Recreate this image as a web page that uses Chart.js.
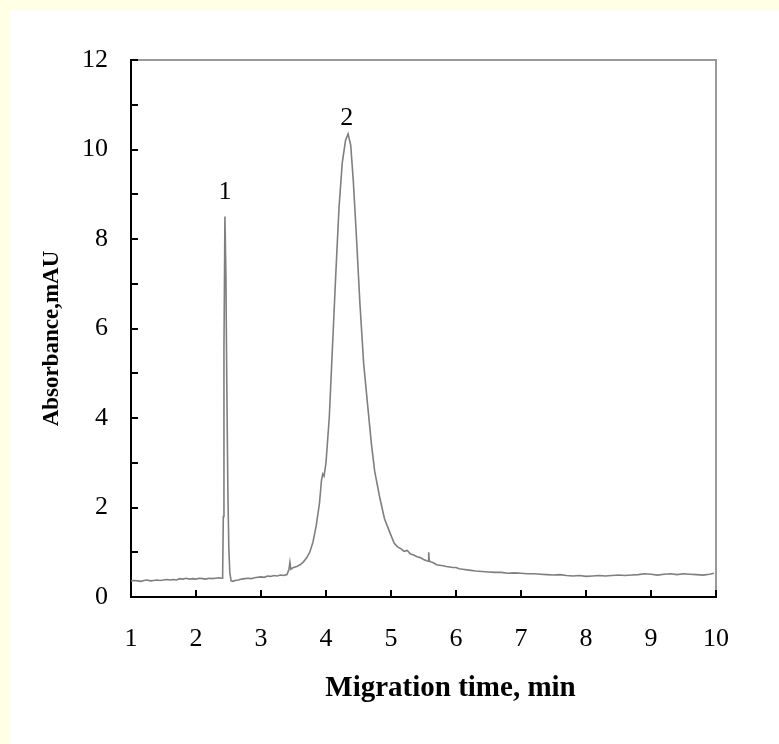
<!DOCTYPE html>
<html>
<head>
<meta charset="utf-8">
<script src="https://cdn.jsdelivr.net/npm/chart.js@4/dist/chart.umd.min.js"></script>
<style>
  html, body { margin: 0; padding: 0; width: 779px; height: 744px; overflow: hidden; background: #FFFFE6; }
  #wrap { position: absolute; left: 9px; top: 10px; width: 770px; height: 734px; background: #ffffff; }
</style>
</head>
<body>
<div id="wrap"><canvas id="c" width="770" height="734"></canvas></div>
<script>
// ---- data ----
const times = [
  1.00,1.05,1.10,1.15,1.20,1.25,1.30,1.35,1.40,1.45,1.50,1.55,1.60,1.65,1.70,1.75,1.80,1.85,1.90,1.95,
  2.00,2.05,2.10,2.15,2.20,2.25,2.30,2.35,2.40,2.41,2.42,2.43,2.445,2.46,2.475,2.49,2.505,2.52,2.54,2.57,
  2.60,2.65,2.70,2.75,2.80,2.85,2.90,2.95,3.00,3.05,3.10,3.15,3.20,3.25,3.30,3.35,3.40,3.43,3.445,3.46,
  3.50,3.55,3.60,3.65,3.70,3.75,3.80,3.85,3.90,3.93,3.95,3.97,4.00,4.05,4.10,4.15,4.20,4.25,4.30,4.34,
  4.38,4.42,4.47,4.52,4.58,4.64,4.70,4.75,4.83,4.90,4.98,5.05,5.10,5.15,5.20,5.25,5.30,5.35,5.40,5.45,
  5.50,5.55,5.57,5.58,5.59,5.62,5.66,5.70,5.75,5.80,5.85,5.90,5.95,6.00,6.05,6.10,6.20,6.30,6.40,6.50,
  6.60,6.70,6.80,6.90,7.00,7.10,7.20,7.30,7.40,7.50,7.60,7.70,7.80,7.90,8.00,8.10,8.20,8.30,8.40,8.50,
  8.60,8.70,8.80,8.90,9.00,9.10,9.20,9.30,9.40,9.50,9.60,9.70,9.80,9.90,9.97
];
const absorbance = [
  0.36,0.37,0.36,0.35,0.37,0.38,0.36,0.37,0.38,0.37,0.38,0.39,0.38,0.39,0.38,0.41,0.40,0.42,0.40,0.41,
  0.40,0.42,0.41,0.40,0.42,0.41,0.42,0.43,0.42,0.50,1.80,5.50,8.50,7.20,4.60,2.40,1.10,0.55,0.36,0.35,
  0.37,0.38,0.40,0.41,0.42,0.41,0.43,0.44,0.45,0.44,0.47,0.46,0.48,0.47,0.49,0.48,0.50,0.62,0.78,0.62,
  0.66,0.68,0.72,0.78,0.87,1.00,1.23,1.60,2.10,2.60,2.75,2.70,3.00,4.00,5.60,7.20,8.70,9.70,10.20,10.35,
  10.10,9.30,8.00,6.60,5.20,4.30,3.40,2.80,2.20,1.75,1.45,1.20,1.12,1.08,1.02,1.04,0.96,0.94,0.90,0.88,
  0.84,0.81,0.80,1.00,0.80,0.78,0.76,0.72,0.71,0.70,0.68,0.67,0.66,0.66,0.63,0.62,0.60,0.58,0.57,0.56,
  0.55,0.55,0.53,0.54,0.53,0.52,0.52,0.51,0.50,0.49,0.50,0.48,0.47,0.48,0.46,0.47,0.48,0.47,0.48,0.49,
  0.48,0.49,0.50,0.52,0.51,0.49,0.51,0.52,0.50,0.52,0.51,0.50,0.49,0.51,0.53
];
const peakLabels = ['1', '2'];
const peakLabelTimes = [2.445, 4.32];
const peakLabelValues = [9.05, 10.71];
const xTitle = 'Migration time, min';
const yTitle = 'Absorbance,mAU';
const xRange = [1, 10];
const yRange = [0, 12];

const FONT = "'Liberation Serif', 'Times New Roman', serif";

const framePlugin = {
  id: 'frame',
  beforeDraw(chart) {
    const xs = chart.scales.x, ys = chart.scales.y;
    if (!xs._shifted) {
      const ox = xs.drawTitle;
      xs.drawTitle = function () { const c = this.ctx; c.save(); c.translate(27, 0); ox.apply(this, arguments); c.restore(); };
      xs._shifted = true;
    }
    if (!ys._shifted) {
      const oy = ys.drawTitle;
      ys.drawTitle = function () { const c = this.ctx; c.save(); c.translate(0, 10); oy.apply(this, arguments); c.restore(); };
      ys._shifted = true;
    }
  },
  afterDraw(chart) {
    const ctx = chart.ctx, a = chart.chartArea;
    const xs = chart.scales.x, ys = chart.scales.y;
    ctx.save();
    // top and right frame lines (gray)
    ctx.strokeStyle = '#9a9a9a';
    ctx.lineWidth = 2;
    ctx.beginPath();
    ctx.moveTo(a.left, a.top); ctx.lineTo(a.right, a.top); ctx.lineTo(a.right, a.bottom);
    ctx.stroke();
    // inward ticks
    ctx.strokeStyle = '#000';
    ctx.lineWidth = 2;
    ctx.beginPath();
    xs.ticks.forEach(t => {
      const px = Math.round(xs.getPixelForValue(t.value));
      ctx.moveTo(px, a.bottom); ctx.lineTo(px, a.bottom - 7);
    });
    ys.ticks.forEach(t => {
      const py = Math.round(ys.getPixelForValue(t.value));
      ctx.moveTo(a.left, py); ctx.lineTo(a.left + 7, py);
    });
    ctx.stroke();
    // peak labels
    ctx.fillStyle = '#000';
    ctx.font = "26px " + FONT;
    ctx.textAlign = 'center';
    ctx.textBaseline = 'middle';
    peakLabels.forEach((lab, i) => {
      ctx.fillText(lab, xs.getPixelForValue(peakLabelTimes[i]), ys.getPixelForValue(peakLabelValues[i]));
    });
    ctx.restore();
  }
};

const points = times.map((t, i) => ({ x: t, y: absorbance[i] }));

new Chart(document.getElementById('c'), {
  type: 'scatter',
  data: {
    datasets: [{
      data: points,
      showLine: true,
      borderColor: '#7f7f7f',
      borderWidth: 1.6,
      pointRadius: 0,
      tension: 0,
      fill: false
    }]
  },
  options: {
    responsive: false,
    animation: false,
    events: [],
    layout: { padding: { left: 0, top: 50, right: 63, bottom: 0 } },
    plugins: { legend: { display: false }, tooltip: { enabled: false } },
    scales: {
      x: {
        type: 'linear',
        min: xRange[0], max: xRange[1],
        afterFit(s) { s.height = 147; },
        grid: { display: true, drawOnChartArea: false, drawTicks: false },
        border: { display: true, color: '#000', width: 2 },
        ticks: {
          stepSize: 1, autoSkip: false, maxRotation: 0, padding: 27,
          color: '#000', font: { family: FONT, size: 26 }
        },
        title: {
          display: true, text: xTitle, color: '#000',
          font: { family: FONT, size: 29, weight: 'bold' },
          padding: { top: 0, bottom: 38 }
        }
      },
      y: {
        type: 'linear',
        min: yRange[0], max: yRange[1],
        afterFit(s) { s.width = 122; },
        grid: { display: true, drawOnChartArea: false, drawTicks: false },
        border: { display: true, color: '#000', width: 2 },
        ticks: {
          stepSize: 1, autoSkip: false, padding: 23,
          color: '#000', font: { family: FONT, size: 26 },
          callback: v => (v % 2 === 0 ? String(v) : '')
        },
        title: {
          display: true, text: yTitle, color: '#000',
          font: { family: FONT, size: 23, weight: 'bold' },
          padding: { top: 29, bottom: 0 }
        }
      }
    }
  },
  plugins: [framePlugin]
});
</script>
</body>
</html>
